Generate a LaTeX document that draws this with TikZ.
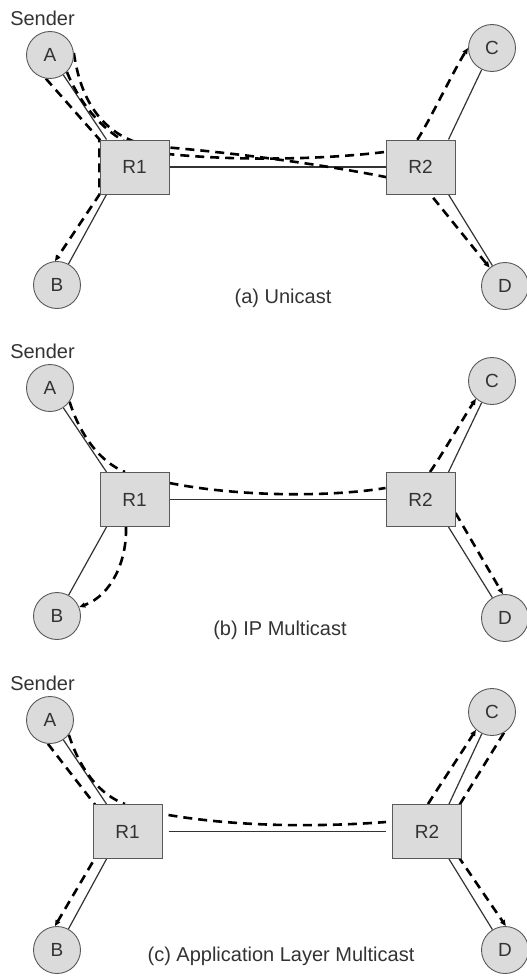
\documentclass[tikz,border=0pt]{standalone}
\usepackage{fontspec}
\setmainfont{Liberation Sans}
\usetikzlibrary{arrows.meta}
\pgfdeclarelayer{bg}
\pgfsetlayers{bg,main}
\definecolor{nodefill}{gray}{0.86}
\definecolor{edgecol}{gray}{0.35}
\tikzset{
 host/.style={circle, draw=edgecol, fill=nodefill, line width=0.9pt, minimum size=47pt, inner sep=0pt, font=\fontsize{19}{22}\selectfont, text=black!80},
 router/.style={rectangle, draw=edgecol, fill=nodefill, line width=1pt, minimum width=69pt, minimum height=54pt, inner sep=0pt, font=\fontsize{19}{22}\selectfont, text=black!80},
 lbl/.style={font=\fontsize{20}{24}\selectfont, text=black!80, inner sep=0pt},
 link/.style={draw=black!80, line width=1.2pt},
 flow/.style={draw=black, line width=2.6pt, dash pattern=on 9pt off 6pt},
 flowarrow/.style={flow, -{Triangle[length=6pt,width=5pt]}},
}
\begin{document}
\begin{tikzpicture}[x=1pt,y=-1pt]
\useasboundingbox (0,0) rectangle (527,977);
% ---------- (a) Unicast ----------
\node[host] (Aa) at (50,55) {A};
\node[host] (Ba) at (57,285) {B};
\node[host] (Ca) at (492,48) {C};
\node[host] (Da) at (505,286) {D};
\node[router] (R1a) at (134.5,167) {R1};
\node[router] (R2a) at (420.5,167) {R2};
\node[lbl] (Sa) at (42.5,18) {Sender};
\node[lbl] (capa) at (283,298) {(a) Unicast};
% ---------- (b) IP Multicast ----------
\node[host] (Ab) at (50,388) {A};
\node[host] (Bb) at (57,616) {B};
\node[host] (Cb) at (492,381) {C};
\node[host] (Db) at (505,618) {D};
\node[router] (R1b) at (134.5,499.5) {R1};
\node[router] (R2b) at (420.5,499.5) {R2};
\node[lbl] (Sb) at (42.5,351) {Sender};
\node[lbl] (capb) at (280,630) {(b) IP Multicast};
% ---------- (c) Application Layer Multicast ----------
\node[host] (Ac) at (50,720) {A};
\node[host] (Bc) at (57,950) {B};
\node[host] (Cc) at (492,712) {C};
\node[host] (Dc) at (505,950) {D};
\node[router] (R1c) at (127.5,831.5) {R1};
\node[router] (R2c) at (427,831.5) {R2};
\node[lbl] (Sc) at (42.5,683) {Sender};
\node[lbl] (capc) at (281,956) {(c) Application Layer Multicast};

\begin{pgfonlayer}{bg}
% (a) links
\draw[link] (Aa) -- ([xshift=7pt]R1a.north west);
\draw[link] ([xshift=7pt]R1a.south west) -- (Ba);
\draw[link] (R1a.east) -- (R2a.west);
\draw[link] ([xshift=-7pt]R2a.north east) -- (Ca);
\draw[link] ([xshift=-7pt]R2a.south east) -- (Da);
% (a) flows
\draw[flowarrow] (Aa.260) -- (R1a.north west) -- (R1a.south west) -- (Ba.95);
\draw[flowarrow] (Aa.315) .. controls (78,100) and (105,140) .. (150,152)
   .. controls (230,162) and (330,160) .. (400,150) -- ([xshift=-3pt]R2a.north)
   .. controls (430,120) and (455,68) .. (Ca.west);
\draw[flowarrow] (Aa.5) .. controls (82,110) and (110,138) .. (150,146)
   .. controls (230,152) and (330,165) .. (400,180) -- ([xshift=10pt]R2a.south) -- (Da.130);
% (b) links
\draw[link] (Ab) -- ([xshift=7pt]R1b.north west);
\draw[link] ([xshift=7pt]R1b.south west) -- (Bb);
\draw[link] (R1b.east) -- (R2b.west);
\draw[link] ([xshift=-7pt]R2b.north east) -- (Cb);
\draw[link] ([xshift=-7pt]R2b.south east) -- (Db);
% (b) flows
\draw[flow] (Ab.325) .. controls (80,435) and (100,462) .. ([xshift=-9.5pt]R1b.north);
\draw[flow] ([yshift=-11pt]R1b.north east) .. controls (240,497) and (330,497) .. ([yshift=-16pt]R2b.north west);
\draw[flowarrow] ([xshift=-8.5pt]R1b.south) .. controls (127,560) and (112,595) .. (Bb.22);
\draw[flowarrow] ([xshift=9.5pt]R2b.north) .. controls (445,450) and (462,420) .. (Cb.228);
\draw[flowarrow] ([yshift=-13.5pt]R2b.east) -- (Db.95);
% (c) links
\draw[link] (Ac) -- ([xshift=14pt]R1c.north west);
\draw[link] ([xshift=14pt]R1c.south west) -- (Bc);
\draw[link] ([xshift=6pt]R1c.east) -- ([xshift=-6pt]R2c.west);
\draw[link] ([xshift=-13pt]R2c.north east) -- (Cc);
\draw[link] ([xshift=-13pt]R2c.south east) -- (Dc);
% (c) flows
\draw[flowarrow] (Ac.265) -- ([xshift=2pt]R1c.north west) -- ([xshift=2pt]R1c.south west) -- (Bc.95);
\draw[flow] (Ac.322) .. controls (80,770) and (100,795) .. ([xshift=-2.5pt]R1c.north);
\draw[flow] ([xshift=6pt,yshift=-11pt]R1c.north east) .. controls (240,827) and (320,827) .. ([xshift=-6pt,yshift=-18pt]R2c.north west);
\draw[flowarrow] ([xshift=1pt]R2c.north) .. controls (440,785) and (460,755) .. (Cc.228);
\draw[flowarrow] (Cc.300) -- ([xshift=-2pt]R2c.north east) -- ([xshift=-2pt]R2c.south east) -- (Dc.88);
\end{pgfonlayer}
\end{tikzpicture}
\end{document}
